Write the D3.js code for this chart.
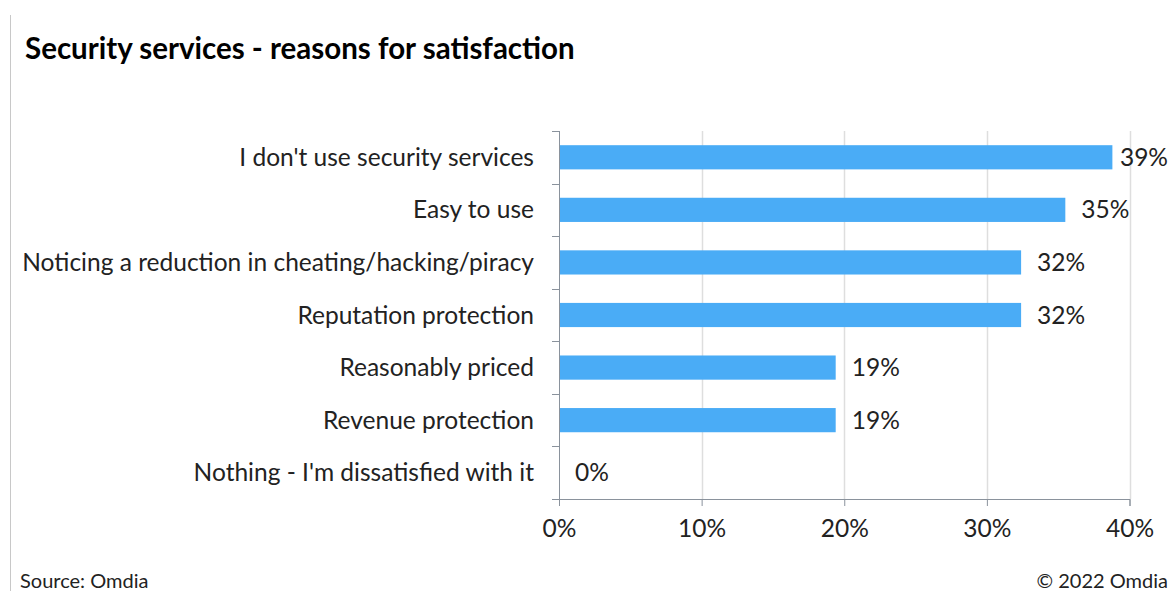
<!DOCTYPE html>
<html>
<head>
<meta charset="utf-8">
<script src="https://cdn.jsdelivr.net/npm/d3@7"></script>
<style>
  body { margin: 0; background: #fff; }
  text { font-family: Lato, "Open Sans", sans-serif; fill: #222; }
</style>
</head>
<body>
<div id="chart"></div>
<script>
const categories = [
    "I don't use security services",
    "Easy to use",
    "Noticing a reduction in cheating/hacking/piracy",
    "Reputation protection",
    "Reasonably priced",
    "Revenue protection",
    "Nothing - I'm dissatisfied with it"
];
const values = [38.8, 35.5, 32.4, 32.4, 19.4, 19.4, 0];
const valueLabels = ["39%", "35%", "32%", "32%", "19%", "19%", "0%"];
const xTicks = [0, 10, 20, 30, 40];

const width = 1171, height = 591;
const margin = {top: 131, right: 42, bottom: 92, left: 559};
const plotHeight = 368;

const svg = d3.select("#chart")
              .append("svg")
              .attr("width", width)
              .attr("height", height);

// left border line
svg.append("line")
   .attr("x1", 10.5).attr("x2", 10.5)
   .attr("y1", 15).attr("y2", height)
   .attr("stroke", "#c8c8c8")
   .attr("stroke-width", 1);

svg.append("text")
   .attr("x", 25)
   .attr("y", 59)
   .text("Security services - reasons for satisfaction")
   .style("font-size", "29.5px")
   .style("font-weight", 700)
   .style("fill", "#000");

const xScale = d3.scaleLinear()
                 .domain([0, 40])
                 .range([0, 1129.5 - margin.left]);

const yScale = d3.scaleBand()
                 .domain(categories)
                 .range([0, plotHeight])
                 .paddingInner(0.54)
                 .paddingOuter(0.27);

const inner = svg.append("g")
                 .attr("transform", `translate(${margin.left}, ${margin.top})`);

// gridlines
inner.selectAll("line.grid")
     .data(xTicks.slice(1))
     .join("line")
     .attr("class", "grid")
     .attr("x1", d => Math.round(xScale(d)) + 0.5)
     .attr("x2", d => Math.round(xScale(d)) + 0.5)
     .attr("y1", 0)
     .attr("y2", plotHeight)
     .attr("stroke", "#dedede")
     .attr("stroke-width", 1.5);

inner.selectAll("rect")
     .data(values)
     .join("rect")
     .attr("x", 0)
     .attr("y", (d, i) => yScale(categories[i]))
     .attr("width", d => xScale(d))
     .attr("height", yScale.bandwidth())
     .attr("fill", "#4aacf6");

// x axis
const xAxis = inner.append("g")
                   .attr("transform", `translate(0, ${plotHeight})`)
                   .call(d3.axisBottom(xScale).tickValues(xTicks).tickSize(7).tickPadding(14).tickFormat(d => d + "%"));

// y axis with ticks at band boundaries
const yAxis = inner.append("g");
yAxis.append("line")
     .attr("x1", 0.5).attr("x2", 0.5)
     .attr("y1", 0).attr("y2", plotHeight)
     .attr("stroke", "#8a929c");
yAxis.selectAll("line.tick")
     .data(d3.range(categories.length + 1))
     .join("line")
     .attr("class", "tick")
     .attr("x1", -7).attr("x2", 0.5)
     .attr("y1", i => Math.round(i * plotHeight / categories.length) + 0.5)
     .attr("y2", i => Math.round(i * plotHeight / categories.length) + 0.5)
     .attr("stroke", "#8a929c");

const catLabels = yAxis.selectAll("text")
     .data(categories)
     .join("text")
     .attr("x", -25)
     .attr("y", d => yScale(d) + yScale.bandwidth() / 2)
     .attr("dy", "0.35em")
     .attr("text-anchor", "end")
     .text(d => d)
     .style("font-size", "21px");

// fit label font size to the width of the longest label
const longest = catLabels.filter((d, i) => i === 2).node();
const fs = 21 * 512 / longest.getComputedTextLength();
catLabels.style("font-size", fs + "px");

xAxis.select(".domain").attr("stroke", "#8a929c");
xAxis.selectAll(".tick line").attr("stroke", "#8a929c");
xAxis.selectAll(".tick text")
     .style("font-size", fs + "px")
     .style("fill", "#222");

const rightLimit = width - 3 - margin.left;
inner.selectAll("text.value")
     .data(values)
     .join("text")
     .attr("class", "value")
     .attr("y", (d, i) => yScale(categories[i]) + yScale.bandwidth() / 2)
     .attr("dy", "0.35em")
     .text((d, i) => valueLabels[i])
     .style("font-size", fs + "px")
     .attr("x", function(d) {
         const w = this.getComputedTextLength();
         return Math.min(xScale(d) + 16, rightLimit - w);
     });

svg.append("text")
   .attr("x", 20)
   .attr("y", 588)
   .text("Source: Omdia")
   .style("font-size", "20px");

svg.append("text")
   .attr("x", 1168)
   .attr("y", 588)
   .attr("text-anchor", "end")
   .text("© 2022 Omdia")
   .style("font-size", "20px");
</script>
</body>
</html>
